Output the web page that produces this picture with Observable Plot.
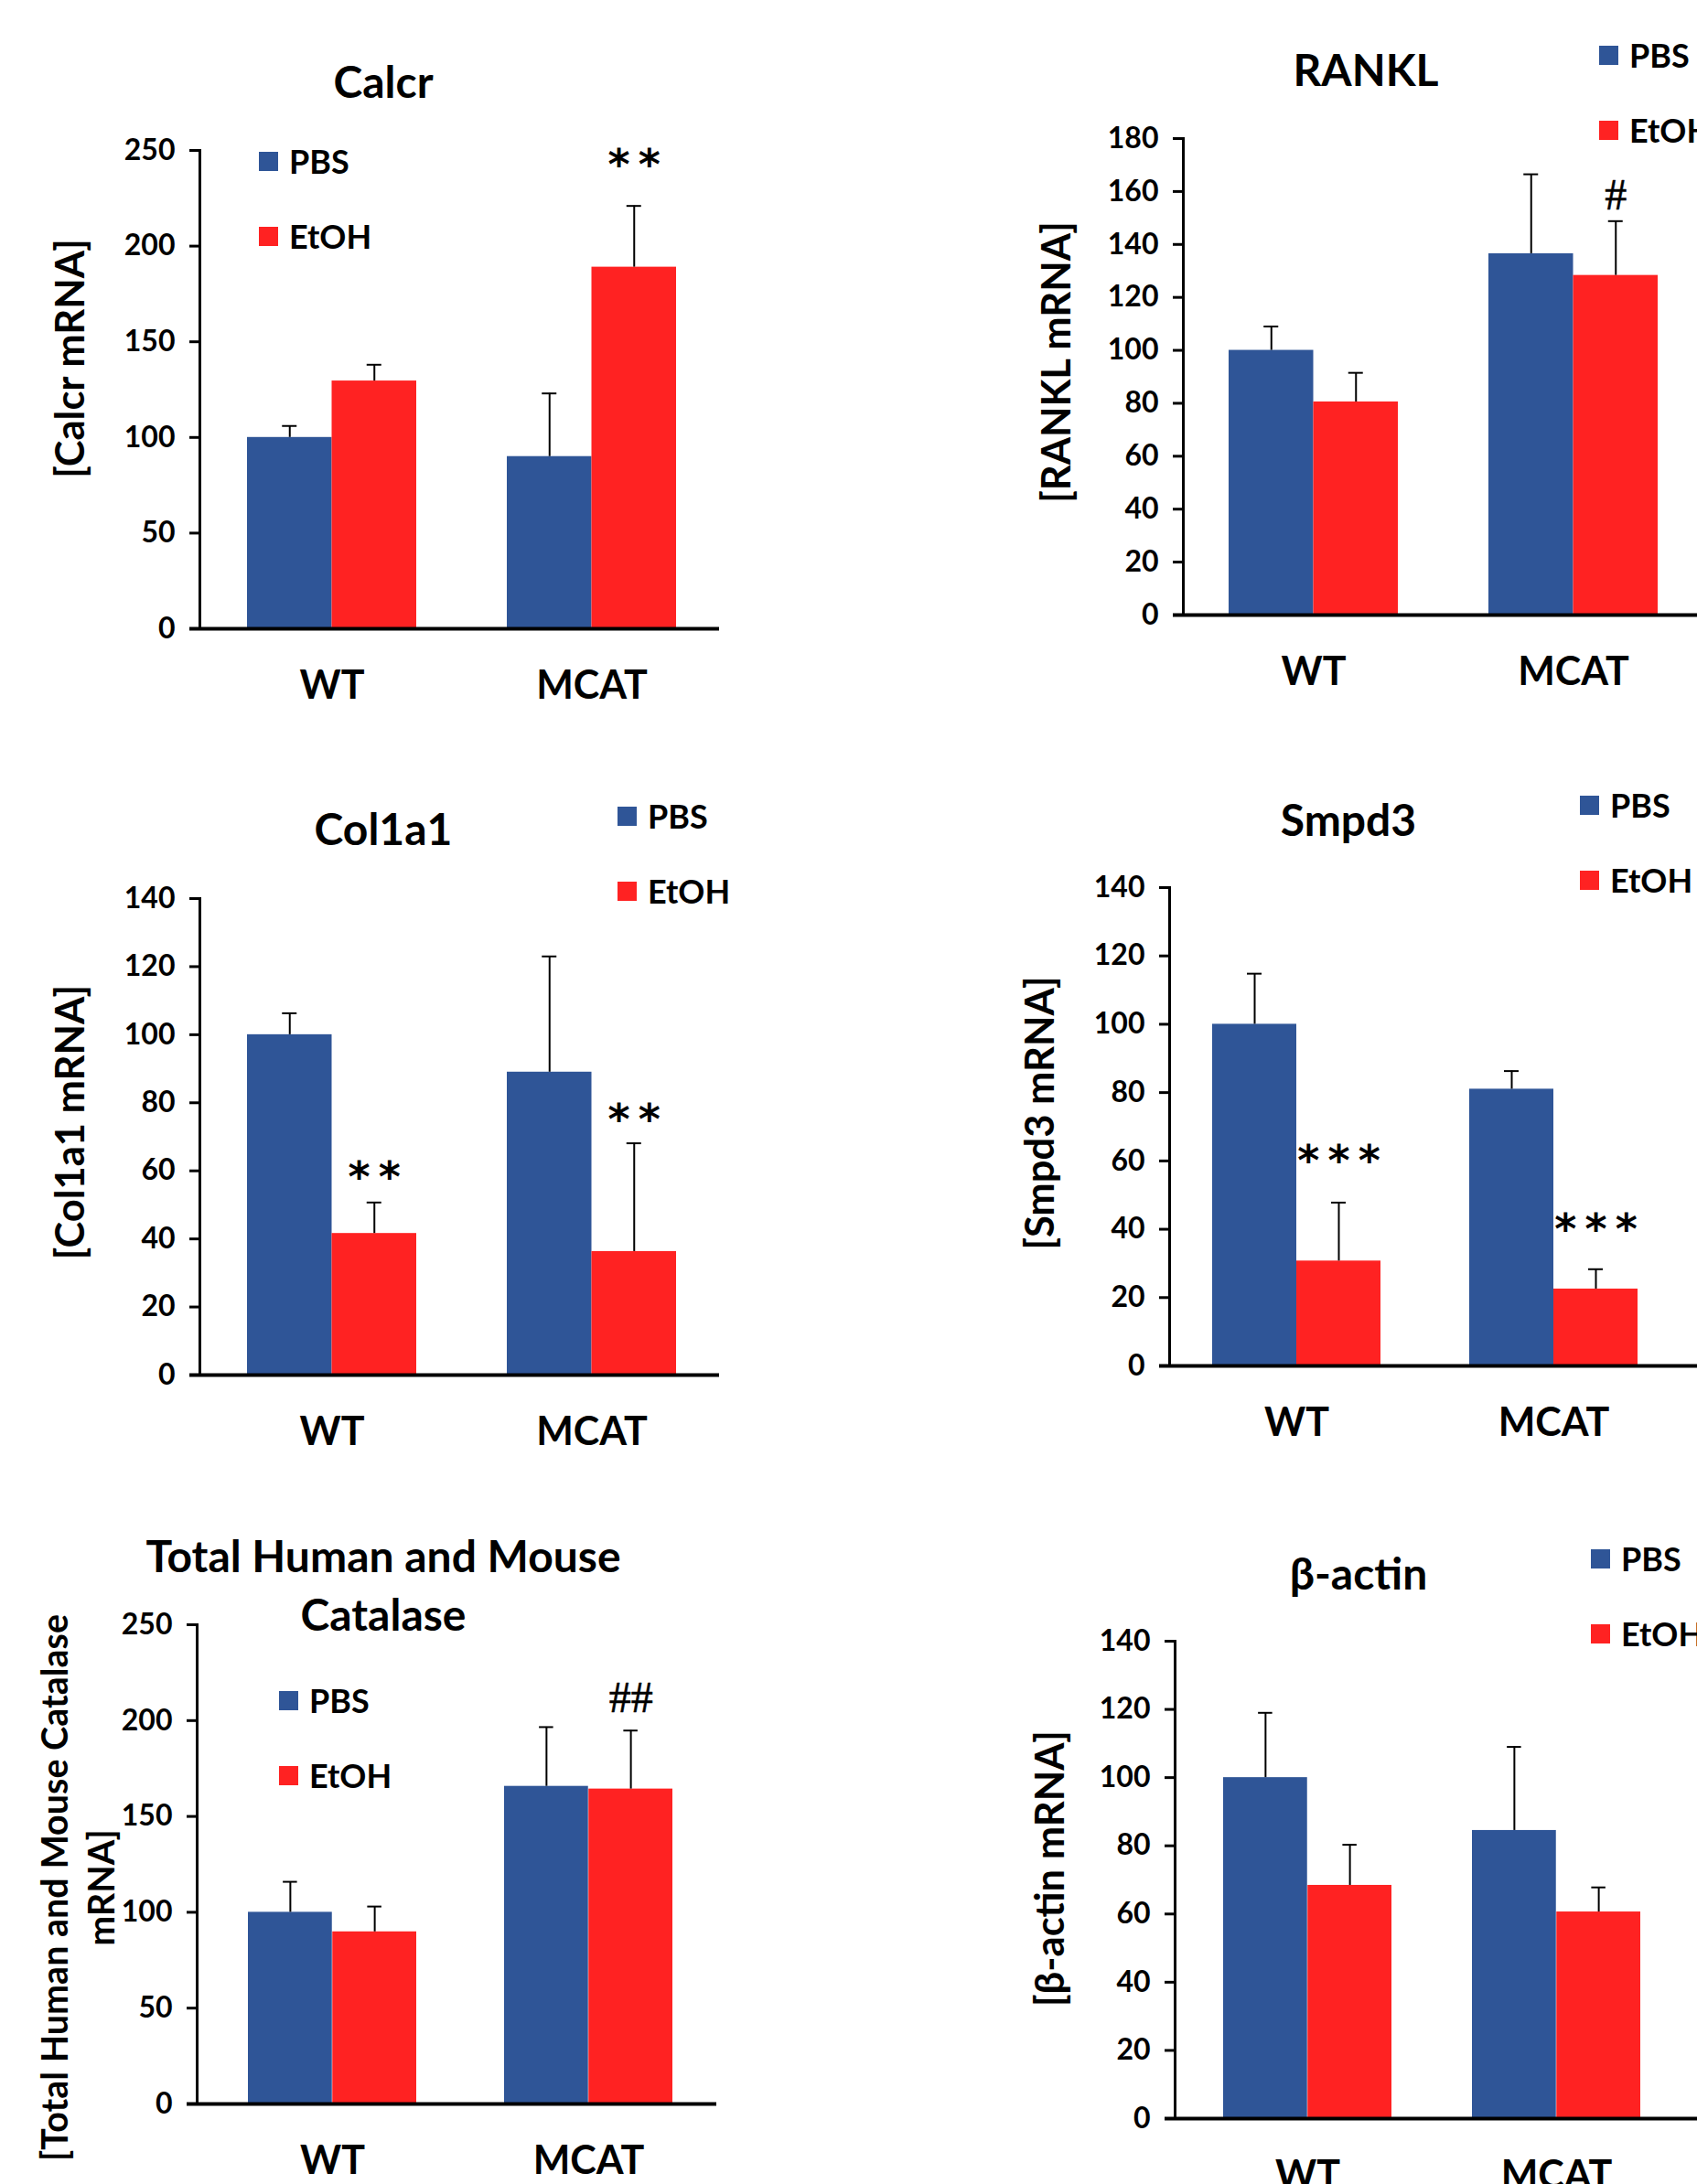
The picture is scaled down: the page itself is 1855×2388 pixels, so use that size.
<!DOCTYPE html>
<html><head><meta charset="utf-8">
<script src="https://cdn.jsdelivr.net/npm/d3@7"></script>
<script src="https://cdn.jsdelivr.net/npm/@observablehq/plot@0.6"></script>
<style>
html,body{margin:0;padding:0;background:#fff;overflow:hidden;}
#wrap{position:relative;width:1855px;height:2388px;overflow:hidden;background:#fff;}
.panel{position:absolute;}
#overlay{position:absolute;left:0;top:0;pointer-events:none;overflow:visible;}
</style></head><body><div id="wrap"></div>
<script>
// ---------- data ----------
const groups = ["WT", "MCAT"];
const treatments = ["PBS", "EtOH"];
const titles = [["Calcr"], ["RANKL"], ["Col1a1"], ["Smpd3"], ["Total Human and Mouse", "Catalase"], ["β-actin"]];
const yLabels = [["[Calcr mRNA]"], ["[RANKL mRNA]"], ["[Col1a1 mRNA]"], ["[Smpd3 mRNA]"], ["[Total Human and Mouse Catalase", "mRNA]"], ["[β-actin mRNA]"]];
const yMax = [250, 180, 140, 140, 250, 140];
const yStep = [50, 20, 20, 20, 50, 20];
// means per panel: [WT, MCAT]
const pbsMean  = [[100, 90], [100, 136.5], [100, 89], [100, 81], [100, 165.7], [100, 84.5]];
const pbsErr   = [[6, 33], [9, 30], [6.3, 34], [14.8, 5.3], [15.9, 30.9], [19, 24.5]];
const etohMean = [[129.5, 189], [80.5, 128.3], [41.6, 36.3], [30.7, 22.5], [89.8, 164.3], [68.4, 60.6]];
const etohErr  = [[8.5, 32], [11, 20.5], [9.1, 31.8], [17.1, 5.8], [13.2, 30.5], [11.9, 7.2]];
// significance marks (above EtOH bars)
const sigPanel = [0, 1, 2, 2, 3, 3, 4];
const sigGroup = ["MCAT", "MCAT", "WT", "MCAT", "WT", "MCAT", "MCAT"];
const sigText  = ["**", "#", "**", "**", "***", "***", "##"];
const sigY     = [247.5, 158.5, 61, 78, 63, 43, 212];

// ---------- styles / layout ----------
const COLORS = {PBS: "#2F5597", EtOH: "#FF2222"};
const FONT = "Lato, 'Open Sans', sans-serif";
const LAYOUT = [
  {left:0,   top:0,    w:927, h:800, axisX:218,  yTop:164,  yBot:687,  barsStart:270,  barsEnd:739,  gap:99, xEnd:786,  titleX:419,  titleY:107,  ylabX:75,   ylabY:392,  ylabSize:43.5, legX:283,  legY:166},
  {left:927, top:0,    w:928, h:800, axisX:1293, yTop:151,  yBot:672,  barsStart:1343, barsEnd:1812, gap:99, xEnd:1855, titleX:1493, titleY:94,   ylabX:1153, ylabY:396,  ylabSize:43.5, legX:1748, legY:50},
  {left:0,   top:800,  w:927, h:820, axisX:218,  yTop:982,  yBot:1503, barsStart:270,  barsEnd:739,  gap:99, xEnd:786,  titleX:419,  titleY:924,  ylabX:75,   ylabY:1227, ylabSize:43.5, legX:675,  legY:882},
  {left:927, top:800,  w:928, h:820, axisX:1278, yTop:970,  yBot:1493, barsStart:1325, barsEnd:1790, gap:97, xEnd:1855, titleX:1474, titleY:914,  ylabX:1135, ylabY:1217, ylabSize:43.5, legX:1727, legY:870},
  {left:0,   top:1620, w:927, h:768, axisX:215,  yTop:1776, yBot:2300, barsStart:271,  barsEnd:736,  gap:96, xEnd:783,  titleX:419,  titleY:1719, ylabX:84,   ylabY:2064, ylabSize:39.5, legX:305,  legY:1849},
  {left:927, top:1620, w:928, h:768, axisX:1284, yTop:1794, yBot:2316, barsStart:1337, barsEnd:1794, gap:88, xEnd:1855, titleX:1485, titleY:1738, ylabX:1146, ylabY:2043, ylabSize:43.5, legX:1739, legY:1694}
];

const wrap = document.getElementById("wrap");

LAYOUT.forEach((L, i) => {
  const rows = [];
  groups.forEach((g, j) => {
    rows.push({group: g, trt: "PBS", value: pbsMean[i][j], err: pbsErr[i][j]});
    rows.push({group: g, trt: "EtOH", value: etohMean[i][j], err: etohErr[i][j]});
  });
  const sigs = sigPanel.map((p, k) => ({p, group: sigGroup[k], label: sigText[k], y: sigY[k]})).filter(d => d.p === i);
  const stars = sigs.filter(d => d.label.startsWith("*"));
  const hashes = sigs.filter(d => d.label.startsWith("#"));
  const bw = (L.barsEnd - L.barsStart - L.gap) / 2;
  const half = bw / 2;
  const pI = L.gap / (bw + L.gap);
  const off = {PBS: -half / 2, EtOH: half / 2};
  const marks = [];
  for (const t of treatments) {
    const d = rows.filter(r => r.trt === t);
    marks.push(Plot.barY(d, {x: "group", y: "value", fill: COLORS[t],
      insetLeft: t === "EtOH" ? half : 0, insetRight: t === "PBS" ? half : 0}));
    marks.push(Plot.ruleX(d, {x: "group", y1: "value", y2: r => r.value + r.err, dx: off[t], stroke: "black", strokeWidth: 2}));
    marks.push(Plot.tickY(d, {x: "group", y: r => r.value + r.err, dx: off[t], stroke: "black", strokeWidth: 2,
      insetLeft: bw / 2 - 8, insetRight: bw / 2 - 8}));
  }
  marks.push(Plot.text(stars, {x: "group", y: "y", text: d => d.label.split("").join("\u2009"), dx: off.EtOH, dy: 12,
    fontSize: 46, fontWeight: "bold", fontFamily: "'DejaVu Sans', sans-serif", fill: "black"}));
  marks.push(Plot.text(hashes, {x: "group", y: "y", text: "label", dx: off.EtOH,
    fontSize: 48, fontWeight: "normal", fontFamily: "'Liberation Serif', serif", fill: "black", stroke: "black", strokeWidth: 0.6}));
  marks.push(Plot.ruleY([0], {stroke: "black", strokeWidth: 4, insetLeft: -11}));
  marks.push(Plot.text(groups, {x: d => d, text: d => d, frameAnchor: "bottom", dy: 76, fontSize: 43, fontWeight: "bold", fill: "black"}));

  const chart = Plot.plot({
    width: L.w,
    height: L.h,
    marginLeft: L.axisX - L.left,
    marginRight: L.left + L.w - L.xEnd,
    marginTop: L.yTop - L.top,
    marginBottom: L.top + L.h - L.yBot,
    style: `font-family:${FONT};font-size:32px;font-weight:bold;color:black;stroke-width:3px;background:transparent;overflow:visible;`,
    x: {type: "band", domain: groups, range: [L.barsStart - L.left, L.barsEnd - L.left], paddingInner: pI, paddingOuter: 0, axis: null},
    y: {domain: [0, yMax[i]], nice: false, ticks: d3.range(0, yMax[i] + 1, yStep[i]), tickSize: 11, tickPadding: 16, label: null, line: true},
    marks
  });
  const div = document.createElement("div");
  div.className = "panel";
  div.style.left = L.left + "px";
  div.style.top = L.top + "px";
  div.style.width = L.w + "px";
  div.style.height = L.h + "px";
  div.appendChild(chart);
  wrap.appendChild(div);
});

// ---------- overlay: titles, y labels, legends ----------
const ov = d3.select(wrap).append("svg").attr("id", "overlay")
  .attr("width", 1855).attr("height", 2388)
  .style("font-family", FONT).style("font-weight", "bold");
LAYOUT.forEach((L, i) => {
  titles[i].forEach((t, k) => ov.append("text")
    .attr("x", L.titleX).attr("y", L.titleY + k * 64)
    .attr("text-anchor", "middle").attr("font-size", 48).attr("fill", "black").text(t));
  const g = ov.append("g").attr("transform", `translate(${L.ylabX},${L.ylabY}) rotate(-90)`);
  const n = yLabels[i].length;
  yLabels[i].forEach((t, k) => g.append("text")
    .attr("x", 0).attr("y", (k - (n - 1) / 2) * 51)
    .attr("text-anchor", "middle").attr("dominant-baseline", "central")
    .attr("font-size", L.ylabSize).attr("fill", "black").text(t));
  treatments.forEach((t, k) => {
    ov.append("rect").attr("x", L.legX).attr("y", L.legY + k * 82).attr("width", 21).attr("height", 21).attr("fill", COLORS[t]);
    ov.append("text").attr("x", L.legX + 33).attr("y", L.legY + k * 82 + 24).attr("font-size", 36).attr("fill", "black").text(t);
  });
});
</script></body></html>
